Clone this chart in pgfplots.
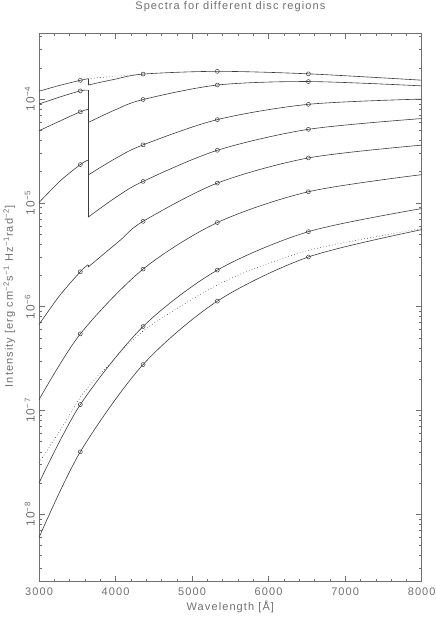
\documentclass[border=0pt]{standalone}
\usepackage{fontspec}
\setmainfont{Liberation Sans}[LetterSpace=10]
\usepackage{pgfplots}
\pgfplotsset{compat=1.18}
\definecolor{txtgray}{HTML}{707070}
\definecolor{curve}{HTML}{3C3C3C}
\newcommand{\lbl}{\fontsize{11}{13}\selectfont}
\pgfplotsset{
  spec/.style={no marks, smooth, draw=curve, line width=0.6pt},
  knee/.style={no marks, draw=curve, line width=0.6pt},
  dots/.style={no marks, smooth, draw=curve, line width=0.6pt, dash pattern=on 0.6pt off 2.4pt},
  circ/.style={only marks, mark=o, mark size=2pt, mark options={draw=curve, line width=0.5pt}},
  every axis title shift/.style={yshift=0pt},
}
\begin{document}
\begin{tikzpicture}
\begin{axis}[
  scale only axis, width=382.7pt, height=548.4pt,
  xmin=3000, xmax=8000, ymode=log, ymin=2.24e-9, ymax=4.3e-4,
  axis line style={txtgray, line width=0.6pt},
  every tick/.style={txtgray, line width=0.5pt},
  major tick length=6pt, minor tick length=3pt,
  xtick={3000,4000,5000,6000,7000,8000},
  xticklabels={3000,4000,5000,6000,7000,8000},
  minor x tick num=4,
  ytick={1e-8,1e-7,1e-6,1e-5,1e-4},
  yticklabels={10\textsuperscript{−8},10\textsuperscript{−7},10\textsuperscript{−6},10\textsuperscript{−5},10\textsuperscript{−4}},
  minor ytick={3e-9,4e-9,5e-9,6e-9,7e-9,8e-9,9e-9,
    2e-8,3e-8,4e-8,5e-8,6e-8,7e-8,8e-8,9e-8,
    2e-7,3e-7,4e-7,5e-7,6e-7,7e-7,8e-7,9e-7,
    2e-6,3e-6,4e-6,5e-6,6e-6,7e-6,8e-6,9e-6,
    2e-5,3e-5,4e-5,5e-5,6e-5,7e-5,8e-5,9e-5,
    2e-4,3e-4,4e-4},
  tick label style={text=txtgray, font=\lbl},
  yticklabel style={rotate=90, anchor=south, inner sep=4pt, font=\fontsize{12}{14}\selectfont},
  xticklabel style={anchor=north, inner sep=0pt, yshift=-6pt},
  title={Spectra for different disc regions},
  title style={at={(axis description cs:0.5,1)}, anchor=base, yshift=18pt, text=txtgray, font=\lbl},
  xlabel={Wavelength [Å]},
  xlabel style={at={(axis description cs:0.5,0)}, anchor=north, inner sep=0pt, yshift=-19pt, text=txtgray, font=\lbl},
  ylabel={Intensity [erg cm\textsuperscript{−2}s\textsuperscript{−1} Hz\textsuperscript{−1}rad\textsuperscript{−2}]},
  ylabel style={at={(axis description cs:-0.062,0.52)}, rotate=0, anchor=south, inner sep=0pt, text=txtgray, font=\lbl},
]
% region 1 (hottest)
\addplot[spec] coordinates {(3000,1.19e-4) (3270,1.355e-4) (3540,1.515e-4) (3640,1.57e-4)};
\addplot[knee] coordinates {(3640,1.57e-4) (3640,1.365e-4)};
\addplot[spec] coordinates {(3640,1.365e-4) (3970,1.54e-4) (4360,1.74e-4) (5330,1.85e-4) (6520,1.75e-4) (8000,1.52e-4)};
\addplot[dots] coordinates {(3640,1.57e-4) (3970,1.656e-4) (4360,1.74e-4)};
\addplot[circ] coordinates {(3540,1.515e-4) (4360,1.74e-4) (5330,1.85e-4) (6520,1.75e-4)};
% region 2
\addplot[spec] coordinates {(3000,8.95e-5) (3270,1.045e-4) (3540,1.20e-4) (3640,1.22e-4)};
\addplot[knee] coordinates {(3640,1.22e-4) (3640,5.93e-5)};
\addplot[spec] coordinates {(3640,5.93e-5) (4000,7.9e-5) (4360,9.9e-5) (5330,1.365e-4) (6520,1.475e-4) (8000,1.34e-4)};
\addplot[circ] coordinates {(3540,1.20e-4) (4360,9.9e-5) (5330,1.365e-4) (6520,1.475e-4)};
% region 3
\addplot[spec] coordinates {(3000,4.95e-5) (3270,6.13e-5) (3540,7.54e-5) (3640,7.96e-5)};
\addplot[knee] coordinates {(3640,7.96e-5) (3640,1.85e-5)};
\addplot[spec] coordinates {(3640,1.85e-5) (4000,2.68e-5) (4360,3.62e-5) (5330,6.34e-5) (6520,8.9e-5) (8000,1.0e-4)};
\addplot[circ] coordinates {(3540,7.54e-5) (4360,3.62e-5) (5330,6.34e-5) (6520,8.9e-5)};
% region 4
\addplot[spec] coordinates {(3000,1.007e-5) (3270,1.61e-5) (3540,2.34e-5) (3640,2.58e-5)};
\addplot[knee] coordinates {(3640,2.58e-5) (3640,7.26e-6)};
\addplot[spec] coordinates {(3640,7.26e-6) (4000,1.125e-5) (4360,1.61e-5) (5330,3.21e-5) (6520,5.11e-5) (8000,6.49e-5)};
\addplot[circ] coordinates {(3540,2.34e-5) (4360,1.61e-5) (5330,3.21e-5) (6520,5.11e-5)};
% region 5
\addplot[spec] coordinates {(3000,6.73e-7) (3270,1.28e-6) (3540,2.17e-6) (3640,2.535e-6)};
\addplot[knee] coordinates {(3640,2.535e-6) (3640,2.40e-6)};
\addplot[spec] coordinates {(3640,2.40e-6) (4060,4.36e-6) (4360,6.64e-6) (5330,1.55e-5) (6520,2.71e-5) (8000,3.6e-5)};
\addplot[circ] coordinates {(3540,2.17e-6) (4360,6.64e-6) (5330,1.55e-5) (6520,2.71e-5)};
% region 6
\addplot[spec] coordinates {(3000,1.27e-7) (3540,5.47e-7) (4360,2.30e-6) (5330,6.46e-6) (6520,1.28e-5) (8000,1.87e-5)};
\addplot[circ] coordinates {(3540,5.47e-7) (4360,2.30e-6) (5330,6.46e-6) (6520,1.28e-5)};
% region 7
\addplot[spec] coordinates {(3000,2.0e-8) (3540,1.14e-7) (4360,6.44e-7) (5330,2.25e-6) (6520,5.28e-6) (8000,8.81e-6)};
\addplot[circ] coordinates {(3540,1.14e-7) (4360,6.44e-7) (5330,2.25e-6) (6520,5.28e-6)};
% region 8 (coolest)
\addplot[spec] coordinates {(3000,5.96e-9) (3540,4.0e-8) (4360,2.77e-7) (5330,1.13e-6) (6520,3.01e-6) (8000,5.52e-6)};
\addplot[circ] coordinates {(3540,4.0e-8) (4360,2.77e-7) (5330,1.13e-6) (6520,3.01e-6)};
% dotted comparison spectrum
\addplot[dots] coordinates {(3000,3.13e-8) (3300,6.87e-8) (3540,1.34e-7) (3750,2.08e-7) (3930,2.81e-7) (4190,4.54e-7) (4560,7.4e-7) (5450,1.79e-6) (6520,3.48e-6) (8000,5.65e-6)};
\end{axis}
\pgfresetboundingbox
\path[use as bounding box] (-39pt,-42.3pt) rectangle (397pt,581.7pt);
\end{tikzpicture}
\end{document}
